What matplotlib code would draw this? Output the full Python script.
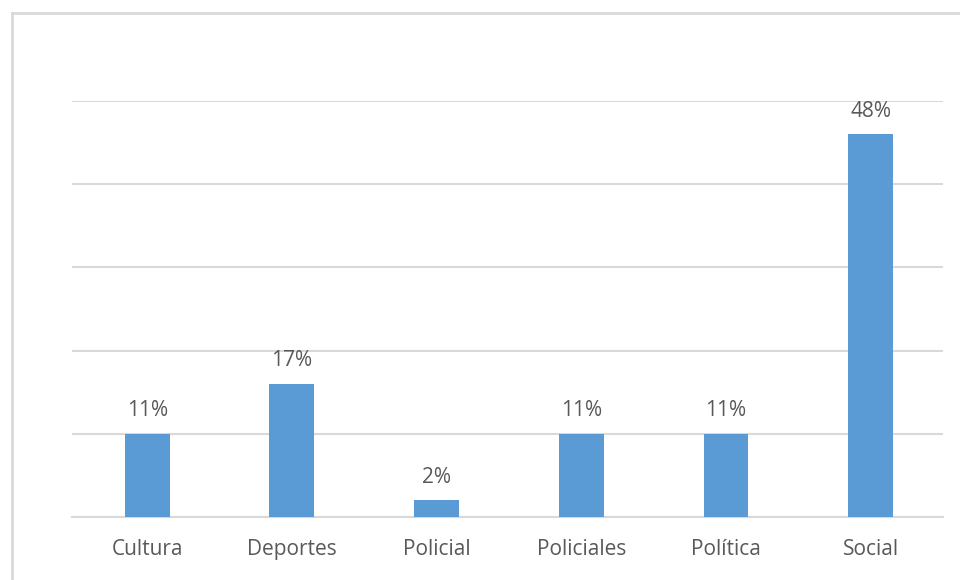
import matplotlib.pyplot as plt
from matplotlib.lines import Line2D

categorias = ['Cultura', 'Deportes', 'Policial', 'Policiales', 'Política', 'Social']
cantidades = [5, 8, 1, 5, 5, 23]
etiquetas = ['11%', '17%', '2%', '11%', '11%', '48%']

plt.rcParams['font.family'] = ['Open Sans', 'DejaVu Sans']

fig = plt.figure(figsize=(9.6, 5.8), dpi=100)
ax = fig.add_axes([72 / 960, 63 / 580, 871 / 960, 416 / 580])

x = range(len(categorias))
barras = ax.bar(x, cantidades, width=0.31, color='#5B9BD5', zorder=3)

for b, txt in zip(barras, etiquetas):
    ax.annotate(txt, (b.get_x() + b.get_width() / 2, b.get_height()),
                xytext=(0, 16.5), textcoords='offset points', ha='center', va='center',
                fontsize=15, color='#595959')

ax.set_xlim(-0.52, len(categorias) - 0.5)
ax.set_ylim(0, 25)
ax.set_yticks(range(0, 26, 5))
ax.yaxis.grid(True, color='#D9D9D9', linewidth=1.5, zorder=0)
ax.tick_params(axis='y', left=False, labelleft=False)
ax.set_xticks(list(x))
ax.set_xticklabels(categorias, fontsize=15, color='#595959')
ax.tick_params(axis='x', length=0, pad=15.5)
for s in ['top', 'right', 'left']:
    ax.spines[s].set_visible(False)
ax.spines['bottom'].set_color('#D9D9D9')
ax.spines['bottom'].set_linewidth(1.5)

# borde del área del gráfico
fig.add_artist(Line2D([12 / 960, 12 / 960], [0, 1 - 13 / 580], color='#D9D9D9', linewidth=2))
fig.add_artist(Line2D([12 / 960, 1], [1 - 13 / 580, 1 - 13 / 580], color='#D9D9D9', linewidth=2))

fig.savefig('out.png', dpi=100, facecolor='white')
